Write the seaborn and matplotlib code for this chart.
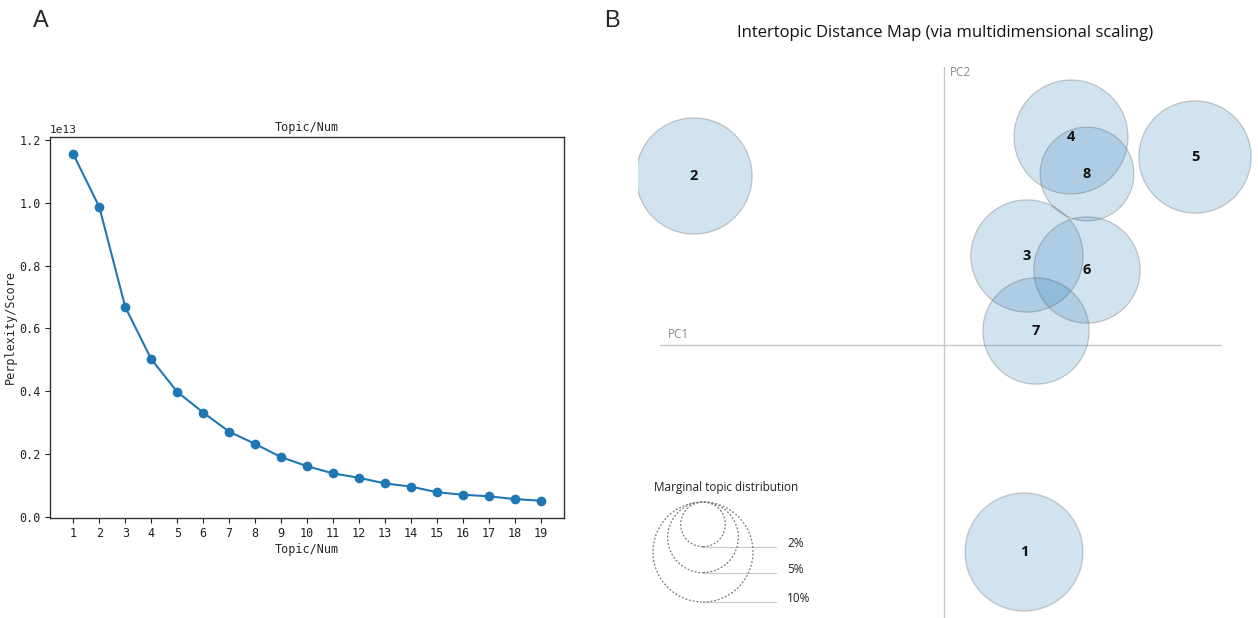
import matplotlib
matplotlib.use('Agg')
import matplotlib.pyplot as plt
import seaborn as sns
import numpy as np
from matplotlib.patches import Circle

# ---- panel A data: perplexity score per number of topics ----
topic_num = list(range(1, 20))
perplexity = [1.155, 0.987, 0.668, 0.502, 0.398, 0.332, 0.271, 0.232, 0.190, 0.161,
              0.138, 0.124, 0.106, 0.096, 0.078, 0.070, 0.065, 0.056, 0.051]  # x 1e13

# ---- panel B data: intertopic distance map ----
topic_ids = ['1', '2', '3', '4', '5', '6', '7', '8']
pc1 = [0.80, -2.50, 0.83, 1.27, 2.51, 1.43, 0.92, 1.43]
pc2 = [-2.07, 1.69, 0.89, 2.08, 1.88, 0.75, 0.14, 1.71]
marginal = [13.9, 13.5, 12.6, 13.0, 12.6, 11.3, 11.3, 8.8]  # percent of tokens
legend_pct = [2, 5, 10]
legend_labels = ['2%', '5%', '10%']


def set_global_style():
    sns.set_theme(style='ticks')
    plt.rcParams.update({
        'axes.edgecolor': '#333333',
        'axes.linewidth': 1.0,
        'xtick.labelsize': 8.5,
        'ytick.labelsize': 8.5,
        'xtick.color': '#222222',
        'ytick.color': '#222222',
    })
    plt.rcParams['font.family'] = ['DejaVu Sans Mono', 'DejaVu Sans']


set_global_style()
fig = plt.figure(figsize=(12.58, 6.18), dpi=100)
W, H = 1258, 618

# ---------------- panel A ----------------
axA = fig.add_axes([50 / W, (H - 518) / H, 514 / W, 381 / H])
sns.lineplot(x=np.array(topic_num) * 1.0, y=np.array(perplexity) * 1e13, marker='o',
             markersize=7, markeredgewidth=0, color='#1f77b4', linewidth=1.5, ax=axA)
axA.set_xticks(topic_num)
axA.set_yticks([0, 0.2e13, 0.4e13, 0.6e13, 0.8e13, 1.0e13, 1.2e13])
axA.set_title('Topic/Num', fontsize=8.5, pad=4)
axA.set_xlabel('Topic/Num', fontsize=8.5, labelpad=2)
axA.set_ylabel('Perplexity/Score', fontsize=8.5, labelpad=2)
axA.yaxis.get_offset_text().set_fontsize(8)
axA.tick_params(length=3.5, width=0.8, pad=3)
for s in axA.spines.values():
    s.set_visible(True)
    s.set_color('#333333')

# ---------------- panel B ----------------
x0, y0 = 944, 345      # pixel position of PC origin
unit = 100.0           # pixels per PC unit
left_px, top_px = 638, 60
axB = fig.add_axes([left_px / W, 0, (W - left_px) / W, (H - top_px) / H])
axB.set_xlim((left_px - x0) / unit, (W - x0) / unit)
axB.set_ylim((y0 - H) / unit, (y0 - top_px) / unit)
axB.set_aspect('equal')
axB.axis('off')

axis_col = '#c8c8c8'
axB.plot([(660 - x0) / unit, (1221 - x0) / unit], [0, 0], color=axis_col, lw=1.0, zorder=1)
axB.plot([0, 0], [(y0 - 67) / unit, (y0 - H) / unit], color=axis_col, lw=1.0, zorder=1)
axB.text((668 - x0) / unit, 0.04, 'PC1', color='#888888', fontsize=8.5,
         family='Open Sans', ha='left', va='bottom')
axB.text(0.06, (y0 - 72) / unit, 'PC2', color='#888888', fontsize=8.5,
         family='Open Sans', ha='left', va='center')

k = 0.5 / np.sqrt(10)  # radius for a given marginal percent
for tid, x, y, p in zip(topic_ids, pc1, pc2, marginal):
    r = k * np.sqrt(p)
    axB.add_patch(Circle((x, y), r, facecolor='#1f77b4', alpha=0.2, edgecolor='none', zorder=2))
    axB.add_patch(Circle((x, y), r, facecolor='none', edgecolor='#555555', alpha=0.3,
                         lw=0.9, zorder=3))
for tid, x, y in zip(topic_ids, pc1, pc2):
    axB.text(x, y, tid, ha='center', va='center', fontsize=10.5, fontweight='bold',
             family='Open Sans', color='#111111', zorder=5)

# marginal topic distribution legend
lx, ltop = (703 - x0) / unit, (y0 - 502) / unit
axB.text((654 - x0) / unit, (y0 - 488) / unit, 'Marginal topic distribution',
         fontsize=8.5, family='Open Sans', color='#222222', ha='left', va='center')
for p, lab in zip(legend_pct, legend_labels):
    r = k * np.sqrt(p)
    axB.add_patch(Circle((lx, ltop - r), r, facecolor='none', edgecolor='#777777',
                         ls=(0, (1.5, 1.5)), lw=0.9, zorder=3))
    yb = ltop - 2 * r
    axB.plot([lx, (776 - x0) / unit], [yb, yb], color='#cccccc', lw=0.9, zorder=2)
    axB.text((787 - x0) / unit, yb + 0.035, lab, fontsize=8.5, family='Open Sans',
             color='#222222', ha='left', va='center')

fig.text(945 / W, 1 - 33 / H, 'Intertopic Distance Map (via multidimensional scaling)',
         ha='center', va='center', fontsize=12, family='Open Sans', color='#111111')

# panel letters
fig.text(41 / W, 1 - 21 / H, 'A', ha='center', va='center', fontsize=17, family='Liberation Sans')
fig.text(612 / W, 1 - 21 / H, 'B', ha='center', va='center', fontsize=17, family='Liberation Sans')

fig.savefig('out.png', dpi=100)
